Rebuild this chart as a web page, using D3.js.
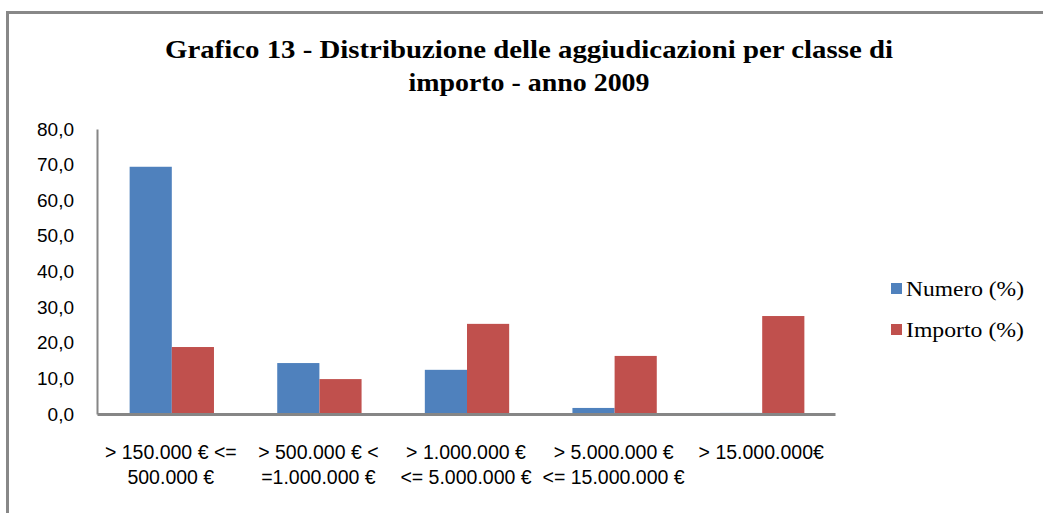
<!DOCTYPE html>
<meta charset="utf-8">
<script src="https://d3js.org/d3.v7.min.js"></script>
<style>
  body { margin: 0; background: #fff; }
</style>
<div id="my_dataviz"></div>

<script>

// data
const categories = ["c1", "c2", "c3", "c4", "c5"];
const tickLabels = [
    ["> 150.000 € <=", "500.000 €"],
    ["> 500.000 € <", "=1.000.000 €"],
    ["> 1.000.000 €", "<= 5.000.000 €"],
    ["> 5.000.000 €", "<= 15.000.000 €"],
    ["> 15.000.000€"]
];
const seriesNames = ["Numero (%)", "Importo (%)"];
const numero = [69.4, 14.3, 12.4, 1.7, 0.3];
const importo = [18.8, 9.8, 25.3, 16.3, 27.5];
const yTicks = [0, 10, 20, 30, 40, 50, 60, 70, 80];
const titleLines = ["Grafico 13 - Distribuzione delle aggiudicazioni per classe di", "importo - anno 2009"];

const colors = ["#4F81BD", "#C0504D"];

const W = 1043, H = 513;
const margin = {top: 129, left: 97};
const width = 738, height = 285;

const svg = d3.select("#my_dataviz")
    .append("svg")
    .attr("width", W)
    .attr("height", H);

// outer frame (only top and left edges show)
svg.append("path")
    .attr("d", `M7.5,${H} V12.5 H${W}`)
    .attr("fill", "none")
    .attr("stroke", "#888")
    .attr("stroke-width", 3);

// title
const titleWidths = [728, 241];
svg.append("g")
    .selectAll("text")
    .data(titleLines)
    .join("text")
    .attr("x", 529)
    .attr("y", (d, i) => 58 + i * 33)
    .attr("text-anchor", "middle")
    .attr("textLength", (d, i) => titleWidths[i])
    .attr("lengthAdjust", "spacingAndGlyphs")
    .style("font-family", "'Liberation Serif', 'DejaVu Serif', serif")
    .style("font-weight", "bold")
    .style("font-size", "25px")
    .text(d => d);

const g = svg.append("g")
    .attr("transform", `translate(${margin.left},${margin.top})`);

// scales
const x0 = d3.scaleBand()
    .domain(categories)
    .range([0, width]);

const step = x0.bandwidth();
const gap = step * 1.5 / 3.5;
const x1 = d3.scaleBand()
    .domain(seriesNames)
    .range([gap / 2 + 1, step - gap / 2 + 1]);

const y = d3.scaleLinear()
    .domain([0, 80])
    .range([height, 0]);

// bars
const rows = categories.map((c, i) => ({cat: c, vals: [numero[i], importo[i]]}));

g.selectAll(".grp")
    .data(rows)
    .join("g")
    .attr("class", "grp")
    .attr("transform", d => `translate(${x0(d.cat)},0)`)
    .selectAll("rect")
    .data(d => d.vals.map((v, k) => ({name: seriesNames[k], v: v, k: k})))
    .join("rect")
    .attr("x", d => x1(d.name))
    .attr("width", x1.bandwidth())
    .attr("y", d => y(d.v))
    .attr("height", d => height - y(d.v))
    .attr("fill", d => colors[d.k]);

// y axis
const yAxis = g.append("g")
    .call(d3.axisLeft(y).tickValues(yTicks).tickSize(0).tickPadding(23)
        .tickFormat(d => d3.format(".1f")(d).replace(".", ",")));
yAxis.select(".domain").attr("stroke", "#868686").attr("stroke-width", 2);
yAxis.selectAll("text")
    .style("font-family", "'Liberation Sans', Arial, sans-serif")
    .style("font-size", "19px")
    .attr("fill", "#000");

// x axis
const xAxis = g.append("g")
    .attr("transform", `translate(0,${height})`)
    .call(d3.axisBottom(x0).tickSize(0).tickFormat(""));
xAxis.select(".domain").attr("stroke", "#868686").attr("stroke-width", 3);

xAxis.selectAll(".tick")
    .append("text")
    .attr("fill", "#000")
    .attr("text-anchor", "middle")
    .style("font-family", "'Liberation Sans', Arial, sans-serif")
    .style("font-size", "19.5px")
    .selectAll("tspan")
    .data((d, i) => tickLabels[i])
    .join("tspan")
    .attr("x", 0)
    .attr("y", (d, i) => 45 + i * 25)
    .text(d => d);

// legend
const legend = svg.append("g")
    .selectAll("g")
    .data(seriesNames)
    .join("g")
    .attr("transform", (d, i) => `translate(891,${289 + i * 41})`);

legend.append("rect")
    .attr("y", -6)
    .attr("width", 11)
    .attr("height", 11)
    .attr("fill", (d, i) => colors[i]);

legend.append("text")
    .attr("x", 15)
    .attr("y", 7)
    .attr("textLength", 118)
    .attr("lengthAdjust", "spacingAndGlyphs")
    .style("font-family", "'Liberation Serif', 'DejaVu Serif', serif")
    .style("font-size", "21px")
    .text(d => d);

</script>
